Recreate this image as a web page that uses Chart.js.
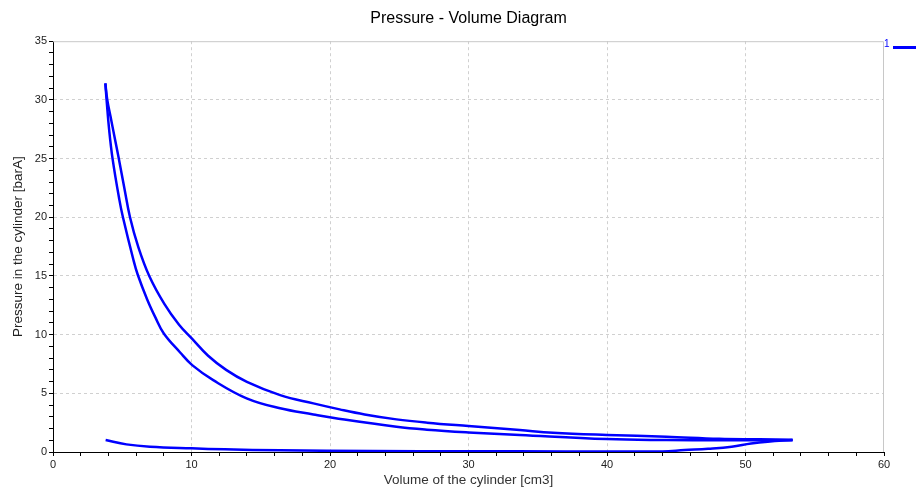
<!DOCTYPE html>
<html>
<head>
<meta charset="utf-8">
<script src="https://cdn.jsdelivr.net/npm/chart.js@4"></script>
<style>
    body { margin: 0; background: #fff; }
    #wrap { position: relative; width: 917px; height: 488px; }
    #legendLabel { position: absolute; left: 884px; top: 38px; font: 10px "Liberation Sans", Arial, sans-serif; color: #0000ff; }
    #legendLine { position: absolute; left: 893px; top: 46px; width: 23px; height: 3px; background: #0000ff; }
</style>
</head>
<body>
<div id="wrap">
    <canvas id="pvChart"></canvas>
    <div id="legendLabel">1</div>
    <div id="legendLine"></div>
</div>
<script>
// Bottom line (gas exchange)
const bottomVolume = [3.8, 5.3, 7.0, 10.0, 12.4, 16.4, 23.1, 30, 37, 44, 45.6, 47.3, 49, 50.4, 51.6, 53.4];
const bottomPressure = [1.02, 0.65, 0.45, 0.31, 0.23, 0.14, 0.08, 0.06, 0.05, 0.05, 0.17, 0.28, 0.45, 0.72, 0.88, 1.03];

// Upper (outer) curve
const upperVolume = [3.78, 3.92, 4.15, 4.45, 4.75, 5.15, 5.56, 6.15, 6.95, 8.05, 9.1, 10.0, 11.2, 12.5, 14.0, 16.4, 18.8, 20.7, 22.5, 24.8, 27, 30, 33.7, 36.1, 40, 44.3, 48.1, 51, 53.4];
const upperPressure = [31.4, 30.0, 28.6, 26.8, 25.0, 22.5, 20.0, 17.5, 15.0, 12.6, 10.85, 9.7, 8.2, 7.0, 5.98, 4.85, 4.14, 3.63, 3.2, 2.78, 2.5, 2.21, 1.87, 1.64, 1.45, 1.3, 1.12, 1.08, 1.04];

// Lower (inner) curve
const lowerVolume = [3.78, 3.87, 4.05, 4.3, 4.79, 5.05, 5.8, 6.12, 6.8, 7.4, 8.0, 9.18, 10.05, 11.57, 13.98, 16.4, 18.8, 20.3, 24.8, 27, 30, 33.7, 40, 44.3, 48.1, 53.4];
const lowerPressure = [31.4, 30.0, 27.5, 25.0, 21.5, 20.0, 16.4, 15.1, 13.0, 11.45, 10.1, 8.48, 7.4, 6.12, 4.57, 3.72, 3.2, 2.9, 2.15, 1.9, 1.67, 1.45, 1.1, 1.02, 1.0, 1.0];

const xMajor = 10;
const yMajor = 5;

function toPoints(vs, ps) {
    return vs.map((v, i) => ({ x: v, y: ps[i] }));
}

function curve(vs, ps) {
    return {
        label: '1',
        data: toPoints(vs, ps),
        showLine: true,
        borderColor: '#0000ff',
        borderWidth: 2.5,
        pointRadius: 0,
        tension: 0.4
    };
}

// Light grey frame on top and right
const framePlugin = {
    id: 'frame',
    beforeDatasetsDraw(chart) {
        const { ctx, chartArea: a } = chart;
        ctx.save();
        ctx.strokeStyle = '#c8c8c8';
        ctx.lineWidth = 1;
        ctx.beginPath();
        ctx.moveTo(a.left, a.top + 0.5);
        ctx.lineTo(a.right - 0.5, a.top + 0.5);
        ctx.lineTo(a.right - 0.5, a.bottom);
        ctx.stroke();
        ctx.restore();
    }
};

const labelFont = { family: '"Liberation Sans", Arial, sans-serif', size: 11 };
const titleFont = { family: '"Liberation Sans", Arial, sans-serif', size: 13.5 };

new Chart(document.getElementById('pvChart'), {
    type: 'scatter',
    data: {
        datasets: [
            curve(bottomVolume, bottomPressure),
            curve(upperVolume, upperPressure),
            curve(lowerVolume, lowerPressure)
        ]
    },
    options: {
        responsive: true,
        maintainAspectRatio: false,
        animation: false,
        layout: { padding: { left: 0, right: 33, top: 0, bottom: 0 } },
        plugins: {
            legend: { display: false },
            tooltip: { enabled: false },
            title: {
                display: true,
                text: 'Pressure - Volume Diagram',
                fullSize: false,
                color: '#000',
                font: { family: '"Liberation Sans", Arial, sans-serif', size: 16, weight: 'normal' },
                padding: { top: 9, bottom: 13 }
            }
        },
        scales: {
            x: {
                type: 'linear',
                min: 0,
                max: 60,
                afterFit: (scale) => { scale.height = 36; },
                ticks: {
                    stepSize: 2,
                    autoSkip: false,
                    maxRotation: 0,
                    padding: 2,
                    color: '#222',
                    font: labelFont,
                    callback: (v) => (v % xMajor === 0 ? v : '')
                },
                grid: {
                    color: (c) => (c.tick && c.tick.value % xMajor === 0 && c.tick.value > 0 && c.tick.value < 60 ? '#d0d0d0' : 'rgba(0,0,0,0)'),
                    tickColor: '#000',
                    tickLength: 4
                },
                border: { color: '#000', width: 1, dash: [3, 3] },
                title: {
                    display: true,
                    text: 'Volume of the cylinder [cm3]',
                    color: '#333',
                    font: titleFont,
                    padding: { top: 0, bottom: 0 }
                }
            },
            y: {
                type: 'linear',
                min: 0,
                max: 35,
                afterFit: (scale) => { scale.width = 53; },
                ticks: {
                    stepSize: 1,
                    autoSkip: false,
                    padding: 2,
                    color: '#222',
                    font: labelFont,
                    callback: (v) => (v % yMajor === 0 ? v : '')
                },
                grid: {
                    color: (c) => (c.tick && c.tick.value % yMajor === 0 && c.tick.value > 0 && c.tick.value < 35 ? '#d0d0d0' : 'rgba(0,0,0,0)'),
                    tickColor: '#000',
                    tickLength: 4
                },
                border: { color: '#000', width: 1, dash: [3, 3] },
                title: {
                    display: true,
                    text: 'Pressure in the cylinder [barA]',
                    color: '#222',
                    font: titleFont,
                    padding: { top: 10, bottom: 0 }
                }
            }
        }
    },
    plugins: [framePlugin]
});
</script>
</body>
</html>
